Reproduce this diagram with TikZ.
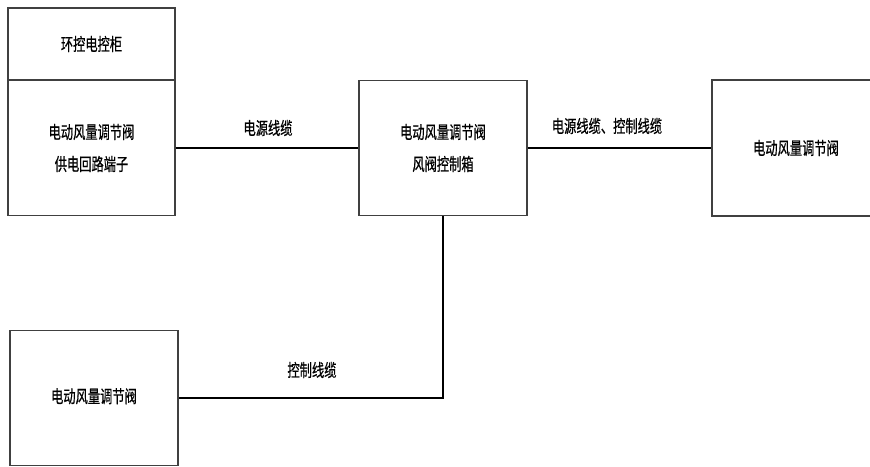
\documentclass[tikz,border=0pt]{standalone}
\usepackage{fontspec}
\newfontfamily\cjk[FakeStretch=0.7,FakeBold=0.6]{Noto Sans CJK SC}
\begin{document}
\begin{tikzpicture}[x=1pt,y=-1pt,
  box/.style={draw=black!75,line width=1.1pt,minimum width=167pt,inner sep=0pt,align=center,
    font=\cjk\fontsize{17.5}{32}\selectfont},
  wire/.style={line width=1.8pt},
  thickwire/.style={line width=2.8pt},
  lbl/.style={font=\cjk\fontsize{17.5}{20}\selectfont,inner sep=0pt}]
\clip (0,0) rectangle (870,466);
\useasboundingbox (0,0) rectangle (870,466);
\fill[white] (0,0) rectangle (870,466);
\node[box,minimum height=72pt] (top) at (91.5,44) {\raisebox{-5pt}{环控电控柜}};
\node[box,minimum height=135pt] (lb) at (91.5,148) {电动风量调节阀\\供电回路端子};
\node[box,minimum height=135pt,minimum width=168pt] (mid) at (443,148) {电动风量调节阀\\风阀控制箱};
\node[box,minimum height=136pt,minimum width=168pt] (rt) at (796,148) {电动风量调节阀};
\node[box,minimum height=135pt,minimum width=168pt] (bl) at (94,398) {\raisebox{5pt}{电动风量调节阀}};
\draw[wire] (lb.east) -- (mid.west);
\draw[wire] (mid.east) -- (rt.west);
\draw[thickwire] (mid.south) |- (bl.east);
\node[lbl] (l1) at (268,128) {电源线缆};
\node[lbl] (l2) at (607,126) {电源线缆、控制线缆};
\node[lbl] (l3) at (312,370) {控制线缆};
\end{tikzpicture}
\end{document}
